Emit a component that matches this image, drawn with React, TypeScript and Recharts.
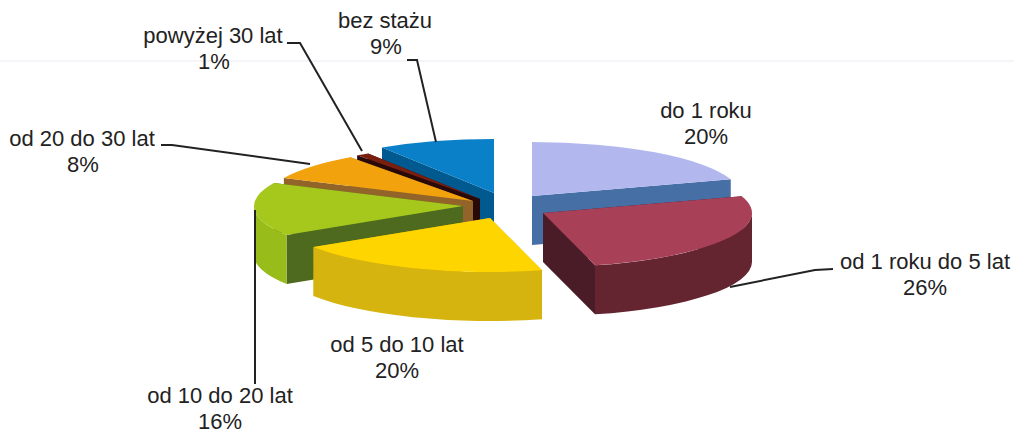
import React from "react";
import { PieChart, Pie } from "recharts";

// Values in drawing order (back to front), going counter-clockwise from "do 1 roku".
const names = ["do 1 roku", "bez stażu", "powyżej 30 lat", "od 20 do 30 lat", "od 10 do 20 lat", "od 5 do 10 lat", "od 1 roku do 5 lat"];
const values = [20, 9, 1, 8, 16, 20, 26];

const W = 1014, H = 434, CX = 500, CY = 205, RX = 209, RY = 54, DEPTH = 49;
const offsets = [[32, -9], [-6, -12], [-20, -6], [-27, -4], [-37, 1], [-10, 13], [43, 8]];
const topFill = ["#b2b8ee", "#0a80c8", "#7a1e10", "#f2a20c", "#a6c81c", "#ffd500", "#a84058"];
const arcFill = ["#4a78a8", "#0068a4", "#3a0c08", "#9a6a2a", "#98bc1a", "#d6b410", "#642530"];
const edgeFill = ["#466fa6", "#005a90", "#2a0a08", "#93642a", "#4e6a1e", "#c8a80c", "#4a1c28"];
const labelX = [706, 385, 213, 82, 220, 397, 925];
const labelY = [118, 28, 43, 146, 403, 352, 269];
const pctX = [706, 386, 214, 83, 220, 397, 925];
const leaders = [
  null,
  "407,60 417,60 436,142",
  "287,43 300,43 362,151",
  "161,145 172,145 310,164",
  "255,210 255,384",
  null,
  "833,269 815,270 730,287",
];

const pt = (x: number, y: number, a: number) => {
  const r = (a * Math.PI) / 180;
  return [x + RX * Math.cos(r), y - RY * Math.sin(r)];
};

const Slice = (p: any) => {
  const i = p.index;
  const x = p.cx + offsets[i][0];
  const y = p.cy + offsets[i][1];
  const s = p.startAngle;
  const e = p.endAngle;
  const [x1, y1] = pt(x, y, s);
  const [x2, y2] = pt(x, y, e);
  const large = e - s > 180 ? 1 : 0;
  const top = `M${x},${y}L${x1},${y1}A${RX},${RY} 0 ${large} 0 ${x2},${y2}Z`;
  const wall = (ax: number, ay: number) =>
    `M${x},${y}L${ax},${ay}L${ax},${ay + DEPTH}L${x},${y + DEPTH}Z`;
  const a0 = Math.max(s, 180);
  const a1 = Math.min(e, 360);
  let outer = null;
  if (a1 > a0) {
    const [u1, v1] = pt(x, y, a0);
    const [u2, v2] = pt(x, y, a1);
    outer = `M${u1},${v1}A${RX},${RY} 0 0 0 ${u2},${v2}L${u2},${v2 + DEPTH}A${RX},${RY} 0 0 1 ${u1},${v1 + DEPTH}Z`;
  }
  return (
    <g>
      <path d={wall(x1, y1)} fill={edgeFill[i]} />
      <path d={wall(x2, y2)} fill={edgeFill[i]} />
      {outer && <path d={outer} fill={arcFill[i]} />}
      <path d={top} fill={topFill[i]} />
    </g>
  );
};

const Label = (p: any) => {
  const i = p.index;
  const style = { fontFamily: "Liberation Sans", fontSize: 22, fill: "#222" };
  return (
    <g>
      {i === 0 && <line x1={0} x2={W} y1={61} y2={61} stroke="#e9ecf3" strokeWidth={1} />}
      {leaders[i] && <polyline points={leaders[i] as string} fill="none" stroke="#222" strokeWidth={2} />}
      <text x={labelX[i]} y={labelY[i]} textAnchor="middle" {...style}>{names[i]}</text>
      <text x={pctX[i]} y={labelY[i] + 26} textAnchor="middle" {...style}>{values[i]}%</text>
    </g>
  );
};

const data = names.map((name, i) => ({ name, value: values[i] }));

export default function App() {
  return (
    <div style={{ position: "absolute", left: 0, top: 0, width: W, height: H, background: "#fff" }}>
      <PieChart width={W} height={H} margin={{ top: 0, right: 0, bottom: 0, left: 0 }}>
        <Pie
          data={data}
          dataKey="value"
          nameKey="name"
          cx={CX}
          cy={CY}
          innerRadius={0}
          outerRadius={RX}
          startAngle={18}
          endAngle={378}
          paddingAngle={0}
          stroke="none"
          shape={Slice}
          label={Label}
          labelLine={false}
          isAnimationActive={false}
        />
      </PieChart>
    </div>
  );
}
